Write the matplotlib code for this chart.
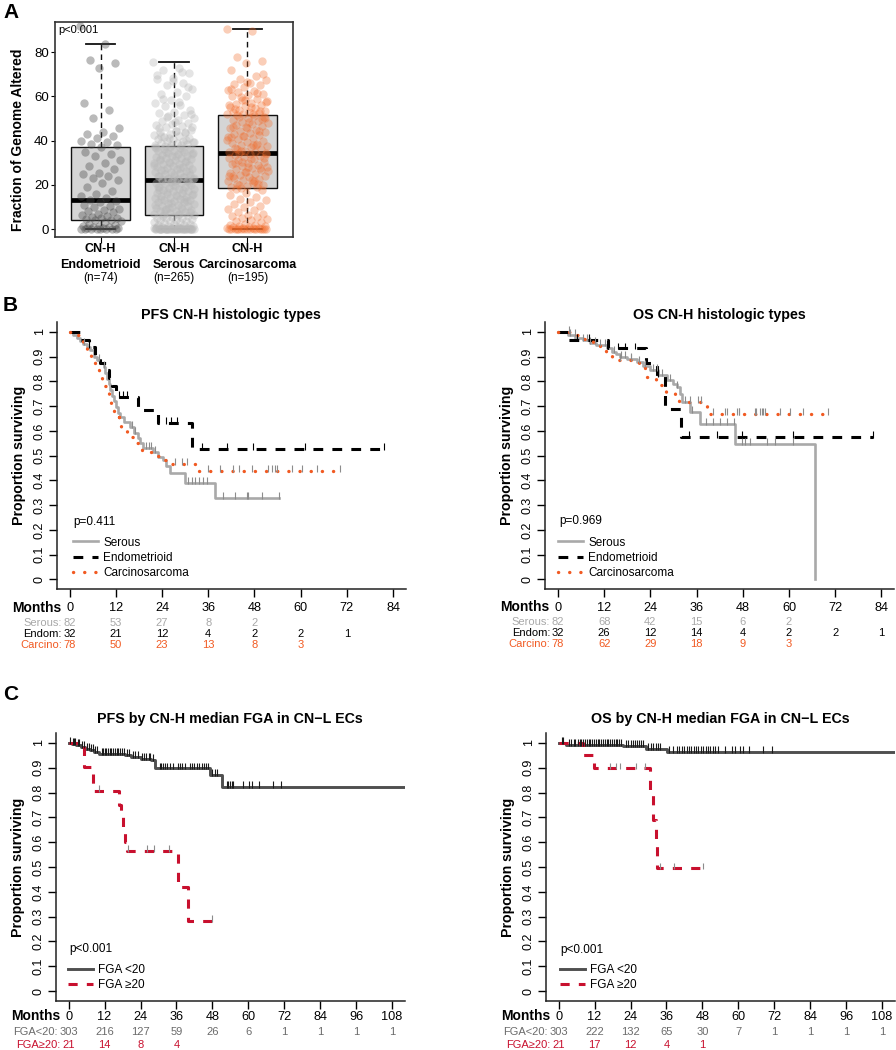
import numpy as np
import matplotlib
matplotlib.use("Agg")
import matplotlib.pyplot as plt
from matplotlib.transforms import blended_transform_factory

plt.rcParams['font.family'] = ['Liberation Sans', 'DejaVu Sans']

W, H = 896, 1050

# ---------------- panel A data ----------------
groups = ['Endometrioid', 'Serous', 'Carcinosarcoma']
group_n = [74, 265, 195]
box_q1 = [4.0, 6.5, 18.5]
box_med = [13.0, 22.0, 34.5]
box_q3 = [37.0, 37.5, 51.5]
box_lo = [0.0, 0.0, 0.0]
box_hi = [83.5, 75.5, 90.5]

endo_fga = [92, 83.5, 76.5, 75, 73, 57, 54, 50, 45.5, 44, 43, 42, 41, 40, 39.5, 38.5, 38, 37,
            35, 34, 33, 31, 30, 28.5, 27, 25.5, 25, 24, 23, 22, 21, 19, 17, 16, 15, 14, 13,
            12.5, 12, 11, 10.5, 10, 9, 8.5, 8, 7.5, 7, 6.5, 6, 5.5, 5, 4.8, 4.5, 4.2, 4,
            3.5, 3, 2.5, 2, 1.5, 1.2, 1, 0.8, 0.5, 0.5, 0.3, 0.2, 0.1, 0, 0, 0, 0, 0, 0]
serous_fga = [75.5, 73, 72, 70.5, 68.5, 68, 66, 65, 63.5, 62, 61, 60, 58.5, 57, 56, 55.5, 54, 53,
              52.5, 51.5, 51, 50, 49.5, 49, 48, 47.5, 47, 46.5, 46, 45, 44.5, 44, 43.5, 43, 42.5,
              42, 41.5, 41, 40.8, 40.5, 40, 39.8, 39.5, 39, 38.8, 38.5, 38.2, 38, 37.8, 37.6, 52,
              48.5, 45.5, 43.8, 41.2, 39.2, 57.5, 59, 64, 67, 69.5, 71, 50.5, 46.2, 44.2, 42.2, 40.2,
              37.2, 37, 36.6, 36.2, 36, 35.5, 35.2, 35, 34.6, 34.2, 34, 33.5, 33.2, 33, 32.5, 32.2,
              32, 31.6, 31.2, 31, 30.5, 30.2, 30, 29.6, 29.2, 29, 28.5, 28.2, 28, 27.6, 27.2, 27,
              26.5, 26.2, 26, 25.6, 25.2, 25, 24.6, 24.2, 24, 23.6, 23.2, 23, 22.8, 22.5, 22.2, 22,
              36.8, 35.8, 34.8, 33.8, 32.8, 31.8, 30.8, 29.8, 28.8, 27.8, 26.8, 25.8, 24.8, 23.8,
              23.4, 22.6, 22.4, 22.1,
              21.8, 21.5, 21.2, 21, 20.6, 20.2, 20, 19.5, 19.2, 19, 18.6, 18.2, 18, 17.5, 17.2, 17,
              16.5, 16.2, 16, 15.6, 15.2, 15, 14.5, 14.2, 14, 13.6, 13.2, 13, 12.5, 12.2, 12, 11.6,
              11.2, 11, 10.5, 10.2, 10, 9.6, 9.2, 9, 8.6, 8.2, 8, 7.6, 7.2, 7, 6.8, 6.6, 20.8, 19.8,
              18.8, 17.8, 16.8, 15.8, 14.8, 13.8, 12.8, 11.8, 10.8, 9.8, 8.8, 7.8, 21.6, 17.6, 13.4, 9.4,
              6.4, 6.2, 6, 5.8, 5.5, 5.2, 5, 4.8, 4.5, 4.2, 4, 3.8, 3.5, 3.2, 3, 2.8, 2.5, 2.2, 2, 1.8,
              1.5, 1.2, 1, 0.8, 0.6, 0.5, 0.4, 0.3, 0.2, 0.1, 0.05, 0.1, 0.15, 0.2, 0.25, 0.3, 0.35,
              0.4, 0.5, 0.7, 0, 0, 0, 0, 0, 0, 0, 0, 0, 0, 0, 0, 0, 0, 0, 0, 0, 0, 0, 0, 0, 0, 0, 0,
              0, 0]
carc_fga = [90.5, 89.5, 78, 76, 75, 72, 69, 68, 67.5, 66, 65.5, 65, 64, 63, 62.5, 62, 61, 60.5, 60,
            59, 58.5, 58, 57, 56.5, 56, 55.5, 55, 54.5, 54, 53.5, 53, 52.8, 52.5, 52.2, 52, 51.8,
            51.6, 70, 66.5, 63.5, 61.5, 59.5, 57.5, 55.2, 54.2, 53.2, 58.2, 56.2,
            51.2, 50.8, 50.5, 50, 49.5, 49, 48.5, 48, 47.5, 47, 46.5, 46, 45.5, 45, 44.5, 44, 43.5,
            43, 42.5, 42, 41.5, 41, 40.5, 40, 39.5, 39, 38.5, 38, 37.5, 37, 36.5, 36, 35.5, 35,
            34.8, 34.6, 50.2, 48.2, 46.2, 44.2, 42.2, 40.2, 38.2, 36.2, 49.8, 45.8, 41.8, 37.8, 35.2,
            34.3, 34, 33.5, 33, 32.5, 32, 31.5, 31, 30.5, 30, 29.5, 29, 28.5, 28, 27.5, 27, 26.5, 26,
            25.5, 25, 24.5, 24, 23.5, 23, 22.5, 22, 21.5, 21, 20.5, 20, 19.5, 19, 18.8, 18.6, 33.8,
            31.8, 29.8, 27.8, 25.8, 23.8, 21.8, 19.8, 32.2, 28.2, 24.2, 20.2, 30.2, 26.2, 22.2,
            18.2, 17.5, 16.5, 15.5, 14.5, 13.5, 13, 12, 11.5, 10.5, 10, 9, 8.5, 7.5, 7, 6.5, 6, 5.5,
            5, 4.5, 4, 3.5, 3, 2.5, 2, 1.8, 1.5, 1.2, 1, 0.8, 0.6, 0.5, 0.4, 0.3, 0.2, 0.1,
            0, 0, 0, 0, 0, 0, 0, 0, 0, 0, 0, 0, 0]

# ---------------- panel B data (months, survival after each event) ----------------
serous_pfs_t = [1.0, 2.0, 2.7, 3.5, 4.4, 5.2, 6.2, 7.0, 7.8, 8.8, 9.3, 9.7, 10.1, 10.6, 11.0, 11.4,
                12.0, 12.6, 13.1, 14.2, 15.7, 16.8, 17.8, 18.4, 19.1, 21.7, 23.0, 24.3, 25.0, 26.1,
                30.0, 37.8]
serous_pfs_s = [0.988, 0.976, 0.964, 0.952, 0.94, 0.927, 0.90, 0.888, 0.875, 0.86, 0.835, 0.81,
                0.79, 0.765, 0.742, 0.72, 0.695, 0.672, 0.657, 0.635, 0.616, 0.592, 0.57, 0.55,
                0.53, 0.515, 0.495, 0.482, 0.458, 0.43, 0.388, 0.327]
serous_pfs_c = [3.8, 7.5, 9.0, 16.2, 17.0, 19.8, 20.5, 21.2, 22.3, 30.8, 31.8, 32.6, 33.5, 34.6,
                35.6, 39.9, 43.0, 46.0, 46.4, 49.9, 54.5]
endo_pfs_t = [2.7, 5.0, 6.5, 8.0, 9.5, 10.3, 10.9, 12.0, 17.8, 22.9, 31.8]
endo_pfs_s = [0.969, 0.938, 0.906, 0.875, 0.844, 0.813, 0.781, 0.737, 0.684, 0.632, 0.526]
endo_pfs_c = [5.1, 12.8, 13.8, 14.8, 25.0, 26.3, 27.8, 34.3, 41.0, 47.7, 61.1, 81.7]
carc_pfs_t = [1.5, 2.5, 3.5, 4.5, 5.5, 6.5, 7.5, 8.3, 9.0, 9.6, 10.2, 10.8, 11.4, 12.0, 12.7, 13.3,
              13.9, 14.8, 15.7, 16.5, 17.4, 18.2, 18.8, 20.5, 22.5, 24.3, 25.6, 32.8]
carc_pfs_s = [0.987, 0.962, 0.936, 0.91, 0.885, 0.859, 0.833, 0.808, 0.782, 0.756, 0.731, 0.705,
              0.679, 0.654, 0.641, 0.615, 0.603, 0.59, 0.577, 0.564, 0.551, 0.538, 0.522, 0.515,
              0.5, 0.484, 0.468, 0.437]
carc_pfs_c = [27.4, 29.1, 30.4, 36.0, 39.0, 42.5, 44.1, 47.3, 51.6, 52.5, 53.4, 53.8, 57.7, 60.3,
              64.3, 70.2]

serous_os_t = [2.5, 4.5, 6.5, 8.3, 10.0, 12.7, 14.0, 15.0, 16.2, 18.0, 20.5, 22.2, 24.0, 26.1,
               28.3, 30.0, 30.9, 31.6, 32.2, 34.3, 36.9, 46.0, 66.8]
serous_os_s = [0.988, 0.976, 0.966, 0.955, 0.946, 0.933, 0.92, 0.91, 0.90, 0.89, 0.879, 0.862,
               0.845, 0.825, 0.805, 0.79, 0.778, 0.748, 0.717, 0.677, 0.626, 0.546, 0.0]
serous_os_c = [3.1, 4.4, 6.6, 7.5, 8.3, 9.6, 10.9, 12.2, 14.5, 16.5, 17.5, 19.0, 21.0, 22.5, 24.8,
               25.8, 27.0, 29.0, 31.0, 33.0, 34.8, 38.5, 40.4, 42.1, 43.8, 45.7, 47.7, 48.6, 49.9,
               54.4, 56.4, 61.0]
endo_os_t = [2.7, 13.0, 23.0, 25.7, 27.8, 31.9]
endo_os_s = [0.969, 0.933, 0.876, 0.82, 0.69, 0.576]
endo_os_c = [5.0, 8.0, 15.5, 17.5, 20.0, 26.0, 34.1, 41.2, 47.7, 61.1, 81.9]
carc_os_t = [4.0, 6.0, 9.0, 11.0, 12.5, 14.0, 21.0, 22.5, 23.0, 25.5, 28.0, 30.5, 31.5, 38.6]
carc_os_s = [0.987, 0.973, 0.946, 0.932, 0.919, 0.886, 0.872, 0.852, 0.818, 0.785, 0.758, 0.735,
             0.717, 0.67]
carc_os_c = [3.0, 16.0, 19.0, 34.3, 36.4, 37.1, 40.3, 43.4, 43.8, 46.4, 46.9, 47.1, 51.2, 51.5,
             52.5, 52.9, 53.3, 53.8, 57.7, 60.3, 63.7, 70.2]

# ---------------- panel C data ----------------
lo_pfs_t = [1.0, 2.5, 4.0, 5.5, 7.0, 8.5, 10.0, 18.8, 20.9, 24.0, 27.5, 28.8, 47.2, 51.1]
lo_pfs_s = [0.997, 0.99, 0.983, 0.977, 0.97, 0.963, 0.957, 0.95, 0.944, 0.937, 0.93, 0.897,
            0.87, 0.823]
lo_pfs_c = [0.5, 1.3, 1.8, 2.2, 3.0, 3.6, 4.4, 5.0, 6.2, 6.8, 7.5, 8.0, 8.8, 9.4, 11.0, 11.6,
            12.1, 12.6, 13.2, 13.7, 14.3, 14.8, 15.5, 16.0, 16.6, 17.2, 17.8, 18.4, 19.5, 20.2,
            21.5, 22.3, 23.1, 24.5, 25.2, 26.0, 26.7, 27.3, 28.2, 30.5, 31.0, 31.6, 32.3, 33.0,
            33.9, 35.0, 36.5, 37.2, 38.0, 38.8, 40.5, 41.3, 42.0, 42.8, 43.6, 44.4, 45.2, 46.0,
            46.6, 48.0, 48.8, 49.6, 52.8, 53.3, 53.9, 54.5, 55.0, 58.3, 60.3, 61.1, 63.7, 68.4,
            70.8, 120.0]
hi_pfs_t = [5.0, 8.3, 16.8, 17.5, 18.2, 18.8, 19.4, 36.4, 40.0]
hi_pfs_s = [0.905, 0.805, 0.75, 0.70, 0.65, 0.60, 0.565, 0.42, 0.283]
hi_pfs_c = [10.3, 19.8, 26.1, 28.6, 33.5, 47.8]

lo_os_t = [2.5, 21.6, 29.2, 36.1]
lo_os_s = [0.993, 0.987, 0.974, 0.962]
lo_os_c = [1.0, 1.5, 3.5, 4.0, 5.0, 5.5, 6.3, 7.0, 7.6, 8.2, 8.8, 9.4, 10.0, 10.6, 11.2, 11.8,
           12.4, 13.0, 13.6, 14.2, 14.8, 15.4, 16.0, 16.6, 17.2, 17.8, 18.4, 19.0, 19.6, 20.2,
           20.8, 22.5, 23.2, 24.0, 24.7, 25.4, 26.1, 26.8, 27.5, 28.3, 30.0, 30.8, 31.6, 32.4,
           33.2, 34.0, 37.0, 38.2, 39.5, 40.3, 41.1, 41.9, 42.7, 43.5, 44.3, 45.1, 45.9, 46.7,
           47.5, 48.3, 49.1, 49.9, 50.7, 51.5, 52.3, 53.2, 55.6, 57.8, 58.9, 60.6, 61.7, 63.4,
           68.4, 71.2, 120.0]
hi_os_t = [8.3, 11.9, 30.5, 31.5, 32.6, 33.0]
hi_os_s = [0.952, 0.897, 0.797, 0.69, 0.59, 0.494]
hi_os_c = [17.2, 19.2, 20.5, 25.9, 28.7, 33.7, 38.5, 48.3]

# numbers at risk
pfs_risk_serous = [82, 53, 27, 8, 2]
pfs_risk_endo = [32, 21, 12, 4, 2, 2, 1]
pfs_risk_carc = [78, 50, 23, 13, 8, 3]
os_risk_serous = [82, 68, 42, 15, 6, 2]
os_risk_endo = [32, 26, 12, 14, 4, 2, 2, 1]
os_risk_carc = [78, 62, 29, 18, 9, 3]
pfs_risk_lo = [303, 216, 127, 59, 26, 6, 1, 1, 1, 1]
pfs_risk_hi = [21, 14, 8, 4]
os_risk_lo = [303, 222, 132, 65, 30, 7, 1, 1, 1, 1]
os_risk_hi = [21, 17, 12, 4, 1]

SER = '#a9a9a9'
CAR = '#f15a22'
LO = '#4f4f4f'
HI = '#c8102e'

fig = plt.figure(figsize=(W / 100, H / 100), dpi=100)


def px_axes(l, t, r, b):
    return fig.add_axes([l / W, 1 - b / H, (r - l) / W, (b - t) / H])


def fy(y):
    return 1 - y / H


# ---------------- panel A ----------------
axA = px_axes(55, 22, 293, 237)
stats = []
for i in range(3):
    stats.append(dict(med=box_med[i], q1=box_q1[i], q3=box_q3[i],
                      whislo=box_lo[i], whishi=box_hi[i], fliers=[]))
axA.bxp(stats, positions=[1, 2, 3], widths=0.8, showfliers=False, patch_artist=True,
        capwidths=0.4,
        boxprops=dict(facecolor='#d5d5d5', edgecolor='#111111', linewidth=1.0),
        medianprops=dict(color='black', linewidth=3.4, solid_capstyle='butt'),
        whiskerprops=dict(color='#111111', linewidth=1.0, linestyle=(0, (4, 3))),
        capprops=dict(color='#111111', linewidth=1.3), zorder=1)
dot_cols = ['#4a4a4a', '#b8b8b8', '#f26b2a']
dot_alpha = [0.38, 0.38, 0.33]
for i, vals in enumerate([endo_fga, serous_fga, carc_fga]):
    vals = np.asarray(vals, dtype=float)
    jit = ((np.arange(len(vals)) * 0.6180339887) % 1 - 0.5) * 0.56
    axA.scatter(i + 1 + jit, vals, s=36, color=dot_cols[i], alpha=dot_alpha[i], linewidths=0,
                zorder=2)
axA.set_xlim(0.38, 3.62)
axA.set_ylim(-3.6, 93.6)
axA.set_yticks([0, 20, 40, 60, 80])
axA.set_xticks([1, 2, 3])
axA.set_xticklabels([])
axA.tick_params(axis='y', length=3, width=0.8, labelsize=9.5, pad=1.5)
axA.tick_params(axis='x', length=4, width=0.8)
for sp in axA.spines.values():
    sp.set_linewidth(1.2)
    sp.set_color('#333333')
axA.text(0.014, 0.965, 'p<0.001', transform=axA.transAxes, fontsize=8, va='center')
bA = blended_transform_factory(axA.transData, fig.transFigure)
for i, (g, n) in enumerate(zip(groups, group_n)):
    axA.text(i + 1, fy(248.5), 'CN-H', transform=bA, ha='center', va='center',
             fontsize=9, fontweight='bold')
    axA.text(i + 1, fy(265), g, transform=bA, ha='center', va='center',
             fontsize=9, fontweight='bold')
    axA.text(i + 1, fy(277.5), f'(n={n})', transform=bA, ha='center', va='center', fontsize=8.5)
fig.text(18 / W, fy(140), 'Fraction of Genome Altered', rotation=90, ha='center',
         va='center', fontsize=10, fontweight='bold')


# ---------------- KM helpers ----------------
def draw_curve(ax, t, s, cens, color, ls, lw, tick_col, label, capstyle='butt'):
    t = np.asarray(t, float)
    s = np.asarray(s, float)
    cens = np.asarray(cens, float)
    end = max(t[-1], cens.max())
    xs = np.r_[0, t, end]
    ys = np.r_[1, s, s[-1]]
    line, = ax.step(xs, ys, where='post', color=color, linestyle=ls, linewidth=lw,
                    label=label, dash_capstyle=capstyle, zorder=3)
    lev = np.r_[1, s][np.searchsorted(t, cens, side='right')]
    ax.vlines(cens, lev - 0.004, lev + 0.024, color=tick_col, linewidth=0.8, zorder=4)
    return line


def km_frame(ax, xmax, title, title_y, pval, p_xy, leg_xy, ylab_x, xpad):
    ax.set_xlim(-0.04 * xmax, 1.04 * xmax)
    ax.set_ylim(-0.04, 1.04)
    for side in ['top', 'right']:
        ax.spines[side].set_visible(False)
    for side in ['left', 'bottom']:
        ax.spines[side].set_linewidth(1.1)
        ax.spines[side].set_color('#222222')
    xt = np.arange(0, xmax + 1, 12)
    ax.set_xticks(xt)
    ax.set_xticklabels([str(v) for v in xt])
    yt = np.round(np.arange(0, 1.01, 0.1), 1)
    ax.set_yticks(yt)
    ax.set_yticklabels([f'{v:g}' for v in yt], rotation=90, va='center')
    ax.tick_params(axis='x', length=5.5, width=1, labelsize=9.2, pad=xpad)
    ax.tick_params(axis='y', length=5.5, width=1, labelsize=9, pad=2.5)
    ax.text(0.5, title_y, title, transform=ax.transAxes, ha='center', va='center',
            fontsize=10.3, fontweight='bold')
    ax.text(ylab_x, 0.5, 'Proportion surviving', transform=ax.transAxes, rotation=90,
            ha='center', va='center', fontsize=10.2, fontweight='bold')
    ax.text(p_xy[0], p_xy[1], pval, transform=ax.transAxes, ha='left', va='center', fontsize=8.5)
    ax.legend(loc='upper left', bbox_to_anchor=leg_xy, frameon=False, fontsize=8.5,
              handlelength=2.1, handletextpad=0.45, labelspacing=0.28, borderpad=0,
              borderaxespad=0)


def risk_table(ax, rows, months_y):
    bl = blended_transform_factory(ax.transData, fig.transFigure)
    ax.annotate('Months', xy=(0, fy(months_y)), xycoords=bl, xytext=(-6, 0),
                textcoords='offset points', ha='right', va='center', fontsize=10,
                fontweight='bold')
    for label, nums, col, y in rows:
        for k, n in enumerate(nums):
            ax.text(12 * k, fy(y), str(n), transform=bl, ha='center', va='center',
                    fontsize=8, color=col)
        off = -(len(str(nums[0])) * 2.9 + 2.0) * 0.72
        ax.annotate(label, xy=(0, fy(y)), xycoords=bl, xytext=(off, 0),
                    textcoords='offset points', ha='right', va='center', fontsize=8, color=col)


# ---------------- panel B ----------------
axB1 = px_axes(56.7, 322, 406, 589.2)
draw_curve(axB1, serous_pfs_t, serous_pfs_s, serous_pfs_c, SER, '-', 1.9, '#8c8c8c', 'Serous')
draw_curve(axB1, endo_pfs_t, endo_pfs_s, endo_pfs_c, 'black', (0, (3.2, 3.0)), 2.2, 'black',
           'Endometrioid')
draw_curve(axB1, carc_pfs_t, carc_pfs_s, carc_pfs_c, CAR, (0, (0.05, 3.3)), 2.4, '#8c8c8c',
           'Carcinosarcoma', capstyle='round')
km_frame(axB1, 84, 'PFS CN-H histologic types', 1.026, 'p=0.411', (0.047, 0.252),
         (0.047, 0.197), -0.109, 4)
risk_table(axB1, [('Serous:', pfs_risk_serous, SER, 622.7),
                  ('Endom:', pfs_risk_endo, 'black', 634),
                  ('Carcino:', pfs_risk_carc, CAR, 645)], 607.7)

axB2 = px_axes(545, 322, 894.3, 589.2)
draw_curve(axB2, serous_os_t, serous_os_s, serous_os_c, SER, '-', 1.9, '#8c8c8c', 'Serous')
draw_curve(axB2, endo_os_t, endo_os_s, endo_os_c, 'black', (0, (3.2, 3.0)), 2.2, 'black',
           'Endometrioid')
draw_curve(axB2, carc_os_t, carc_os_s, carc_os_c, CAR, (0, (0.05, 3.3)), 2.4, '#8c8c8c',
           'Carcinosarcoma', capstyle='round')
km_frame(axB2, 84, 'OS CN-H histologic types', 1.026, 'p=0.969', (0.04, 0.254),
         (0.038, 0.197), -0.109, 4)
risk_table(axB2, [('Serous:', os_risk_serous, SER, 621.7),
                  ('Endom:', os_risk_endo, 'black', 633.3),
                  ('Carcino:', os_risk_carc, CAR, 644)], 607.3)

# ---------------- panel C ----------------
axC1 = px_axes(55.7, 733, 405, 1001)
draw_curve(axC1, lo_pfs_t, lo_pfs_s, lo_pfs_c, LO, '-', 2.1, '#1a1a1a', 'FGA <20')
draw_curve(axC1, hi_pfs_t, hi_pfs_s, hi_pfs_c, HI, (0, (3.0, 3.0)), 2.2, '#8c8c8c', 'FGA \u226520')
km_frame(axC1, 108, 'PFS by CN-H median FGA in CN\u2212L ECs', 1.051, 'p<0.001', (0.039, 0.193),
         (0.036, 0.138), -0.109, 1.5)
risk_table(axC1, [('FGA<20:', pfs_risk_lo, '#6b6b6b', 1032.3),
                  ('FGA\u226520:', pfs_risk_hi, HI, 1045)], 1016)

axC2 = px_axes(545.7, 733, 895, 1001)
draw_curve(axC2, lo_os_t, lo_os_s, lo_os_c, LO, '-', 2.1, '#1a1a1a', 'FGA <20')
draw_curve(axC2, hi_os_t, hi_os_s, hi_os_c, HI, (0, (3.0, 3.0)), 2.2, '#8c8c8c', 'FGA \u226520')
km_frame(axC2, 108, 'OS by CN-H median FGA in CN\u2212L ECs', 1.051, 'p<0.001', (0.043, 0.19),
         (0.041, 0.138), -0.109, 1.5)
risk_table(axC2, [('FGA<20:', os_risk_lo, '#6b6b6b', 1032.3),
                  ('FGA\u226520:', os_risk_hi, HI, 1045)], 1016)

# panel letters
for letter, y in [('A', 13), ('B', 305), ('C', 695)]:
    fig.text(3 / W, fy(y), letter, fontsize=15, fontweight='bold', ha='left', va='center')

fig.savefig('out.png', dpi=100)
